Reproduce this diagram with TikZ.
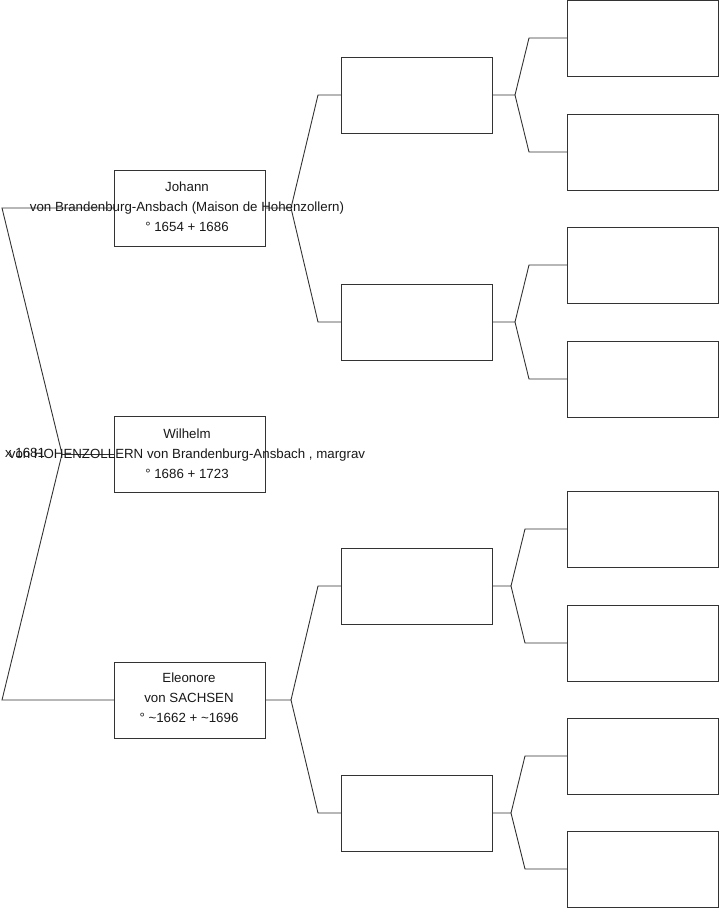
\documentclass[tikz,border=0pt]{standalone}
\usepackage{fontspec}
\setmainfont{Liberation Sans}
\begin{document}
\begin{tikzpicture}[x=1pt,y=-1pt,
  person/.style={draw=black!80, line width=0.9pt, minimum width=151pt, minimum height=76pt, inner sep=0pt, outer sep=0pt, fill=white},
  conn/.style={draw=black!80, line width=0.9pt},
  txt/.style={font=\fontsize{13.3}{20}\selectfont, text=black!90, align=center, inner sep=0pt}]
\useasboundingbox (0,0) rectangle (719,908);
% generation 1
\node[person] (j) at (189.5,208) {};
\node[person] (w) at (189.5,454) {};
\node[person] (e) at (189.5,700) {};
% generation 2
\node[person] (p1) at (416.5,95) {};
\node[person] (p2) at (416.5,322) {};
\node[person] (p3) at (416.5,586) {};
\node[person] (p4) at (416.5,813) {};
% generation 3
\node[person] (g1) at (643,38) {};
\node[person] (g2) at (643,152) {};
\node[person] (g3) at (643,265) {};
\node[person] (g4) at (643,379) {};
\node[person] (g5) at (643,529) {};
\node[person] (g6) at (643,643) {};
\node[person] (g7) at (643,756) {};
\node[person] (g8) at (643,869) {};
% marriage connectors
\coordinate (mt) at (2,208);
\coordinate (mv) at (62,454);
\coordinate (mb) at (2,700);
\draw[conn] (j.west) -- (mt) -- (mv) -- (mb) -- (e.west);
\draw[conn] (mv) -- (w.west);
% parents of Johann
\coordinate (jv) at (291,208);
\draw[conn] (j.east) -- (jv) -- (318,95) -- (p1.west);
\draw[conn] (jv) -- (318,322) -- (p2.west);
% parents of Eleonore
\coordinate (ev) at (291,700);
\draw[conn] (e.east) -- (ev) -- (318,586) -- (p3.west);
\draw[conn] (ev) -- (318,813) -- (p4.west);
% grandparents
\coordinate (v1) at (515,95);
\draw[conn] (p1.east) -- (v1) -- (529,38) -- (g1.west);
\draw[conn] (v1) -- (529,152) -- (g2.west);
\coordinate (v2) at (515,322);
\draw[conn] (p2.east) -- (v2) -- (529,265) -- (g3.west);
\draw[conn] (v2) -- (529,379) -- (g4.west);
\coordinate (v3) at (511,586);
\draw[conn] (p3.east) -- (v3) -- (525,529) -- (g5.west);
\draw[conn] (v3) -- (525,643) -- (g6.west);
\coordinate (v4) at (511,813);
\draw[conn] (p4.east) -- (v4) -- (525,756) -- (g7.west);
\draw[conn] (v4) -- (525,869) -- (g8.west);
% texts
\node[txt] (jt) at (187,207) {Johann\\von Brandenburg-Ansbach (Maison de Hohenzollern)\\° 1654 + 1686};
\node[txt] (wt) at (187,454) {Wilhelm\\von HOHENZOLLERN von Brandenburg-Ansbach , margrav\\° 1686 + 1723};
\node[txt] (et) at (189,698) {Eleonore\\von SACHSEN\\° \textasciitilde 1662 + \textasciitilde 1696};
\node[txt] (mx) at (25,453) {x 1681};
\end{tikzpicture}
\end{document}
